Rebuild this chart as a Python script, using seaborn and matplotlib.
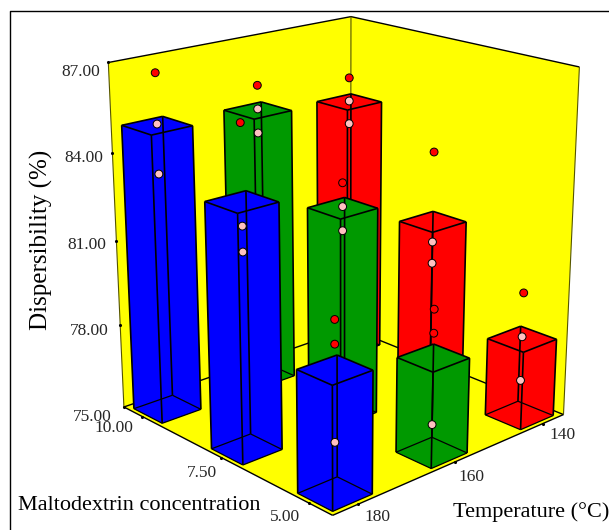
import numpy as np, matplotlib
matplotlib.use('Agg')
import matplotlib.pyplot as plt
import seaborn as sns
from matplotlib.lines import Line2D
from mpl_toolkits.mplot3d.art3d import Poly3DCollection, Line3DCollection

# ---- data ----
maltodextrin = [10.0, 10.0, 10.0, 7.5, 7.5, 7.5, 5.0, 5.0, 5.0]
temperature = [180, 160, 140, 180, 160, 140, 180, 160, 140]
bar_mean = [84.94, 84.69, 84.25, 83.36, 82.23, 80.81, 79.08, 78.26, 77.73]
rep_a = [86.68, 85.56, 85.12, 85.88, 83.09, 83.30, 80.70, 79.91, 79.37]
rep_b = [84.99, 84.74, 84.28, 82.57, 82.28, 80.07, 79.91, 79.10, 77.81]
rep_c = [83.31, 83.90, 83.45, 81.72, 81.45, 79.29, 76.69, 75.94, 76.23]
z_ticks = [75, 78, 81, 84, 87]
m_ticks = [10.0, 7.5, 5.0]
t_ticks = [180, 160, 140]

# ---- style ----
sns.set_theme(style='white')
plt.rcParams['font.family'] = ['Liberation Serif', 'DejaVu Serif']
temp_colors = dict(zip(t_ticks, sns.color_palette(['#0000FF', '#009900', '#FF0000'])))
WALL = '#FFFF00'
ABOVE, BELOW = '#FF0000', '#FFC0C0'
W, H = 609, 530
M0, M1, T0, T1, Z0, Z1 = 4.38, 10.62, 135, 185, 75, 87
HM, HT = 0.47, 3.9
BASE = 74.95

fig = plt.figure(figsize=(W / 100, H / 100), dpi=100)
S = 566.9
ax = fig.add_axes([51.5 / W, -4.83 / H, S / W, S / H], projection='3d', computed_zorder=False)
ax.set_xlim(M0, M1); ax.set_ylim(T0, T1); ax.set_zlim(Z0, Z1)
ax.set_box_aspect((1.00107, 1, 1.13733))
ELEV, AZIM = 19.144, 137.325
ax.view_init(elev=ELEV, azim=AZIM)
ax.set_proj_type('persp', focal_length=0.5659)
ax.set_axis_off()
ax.patch.set_alpha(0)

# walls and floor
walls = [
    [(M1, T1, Z0), (M1, T0, Z0), (M1, T0, Z1), (M1, T1, Z1)],
    [(M1, T0, Z0), (M0, T0, Z0), (M0, T0, Z1), (M1, T0, Z1)],
    [(M1, T1, Z0), (M1, T0, Z0), (M0, T0, Z0), (M0, T1, Z0)],
]
ax.add_collection3d(Poly3DCollection(walls, facecolors=WALL, edgecolors='none', zorder=1), autolim=False)
frame = [
    [(M1, T1, Z1), (M1, T0, Z1)], [(M1, T0, Z1), (M0, T0, Z1)],
    [(M1, T1, Z0), (M1, T0, Z0)], [(M1, T0, Z0), (M0, T0, Z0)],
    [(M1, T1, Z0), (M0, T1, Z0)], [(M0, T1, Z0), (M0, T0, Z0)],
]
ax.add_collection3d(Line3DCollection(frame, colors='black', linewidths=1.0, zorder=2), autolim=False)
verts = [[(M1, T1, Z0), (M1, T1, Z1)], [(M1, T0, Z0), (M1, T0, Z1)], [(M0, T0, Z0), (M0, T0, Z1)]]
ax.add_collection3d(Line3DCollection(verts, colors='#555500', linewidths=0.8, zorder=2), autolim=False)

# ticks
ax.scatter([M1] * len(z_ticks), [T1] * len(z_ticks), z_ticks, s=5, c='black', depthshade=False, zorder=3, linewidths=0)
ax.scatter(m_ticks, [T1] * 3, [Z0] * 3, s=5, c='black', depthshade=False, zorder=3, linewidths=0)
ax.scatter([M0] * 3, t_ticks, [Z0] * 3, s=5, c='black', depthshade=False, zorder=3, linewidths=0)


def bar(m, t, top, color, z):
    a, b, c, d = m - HM, m + HM, t - HT, t + HT
    base = [(a, d), (b, d), (b, c), (a, c)]
    lo = [(x, y, BASE) for x, y in base]
    hi = [(x, y, top) for x, y in base]
    faces = [lo, hi] + [[lo[i], lo[(i + 1) % 4], hi[(i + 1) % 4], hi[i]] for i in range(4)]
    ax.add_collection3d(Poly3DCollection(faces, facecolors=color, edgecolors='none', zorder=z), autolim=False)
    bottom = [[lo[i], lo[(i + 1) % 4]] for i in range(4)]
    upper = [[hi[i], hi[(i + 1) % 4]] for i in range(4)] + [[lo[i], hi[i]] for i in range(4)]
    ax.add_collection3d(Line3DCollection(bottom, colors='black', linewidths=0.9, zorder=z + 0.1), autolim=False)
    ax.add_collection3d(Line3DCollection(upper, colors='black', linewidths=1.2, zorder=z + 0.2), autolim=False)


cx, cy = np.cos(np.radians(AZIM)), np.sin(np.radians(AZIM))
order = sorted(range(len(bar_mean)),
               key=lambda i: cx * (maltodextrin[i] - M0) / (M1 - M0) + cy * (temperature[i] - T0) / (T1 - T0))
for k, i in enumerate(order):
    bar(maltodextrin[i], temperature[i], bar_mean[i], temp_colors[temperature[i]], 10 + k)

# design points: red above the bar top, pink below it
for reps in (rep_a, rep_b, rep_c):
    cols = [ABOVE if r > b + 0.1 else BELOW for r, b in zip(reps, bar_mean)]
    ax.scatter(maltodextrin, temperature, reps, s=32, c=cols, edgecolors='black', linewidths=0.7,
               depthshade=False, zorder=50, alpha=1)
ax.set_xlim(M0, M1); ax.set_ylim(T0, T1); ax.set_zlim(Z0, Z1)


def txt(x, y, s, size=12.5, ha='center', color='#262626', **kw):
    fig.text(x / W, 1 - y / H, s, fontsize=size, ha=ha, va='center', color=color, **kw)


for v, x, y in zip([87, 84, 81, 78, 75], [100, 103, 106, 109, 112], [72, 158, 245, 331, 417]):
    txt(x, y, f'{v:.2f}', ha='right')
for v, x, y in zip(m_ticks, [114, 202, 285], [428, 473, 517]):
    txt(x, y, f'{v:.2f}')
for v, x, y in zip(t_ticks, [377.5, 471, 563], [517, 477, 435]):
    txt(x, y, f'{v}')
txt(18, 505, 'Maltodextrin concentration', size=16, ha='left', color='black')
txt(453, 512, 'Temperature (°C)', size=16, ha='left', color='black')
txt(41, 240, 'Dispersibility (%)', size=18, color='black', rotation=90)

fig.add_artist(Line2D([9.5 / W, 9.5 / W, 1], [0, 1 - 11 / H, 1 - 11 / H], color='black', lw=1))
fig.savefig('out.png', dpi=100)
